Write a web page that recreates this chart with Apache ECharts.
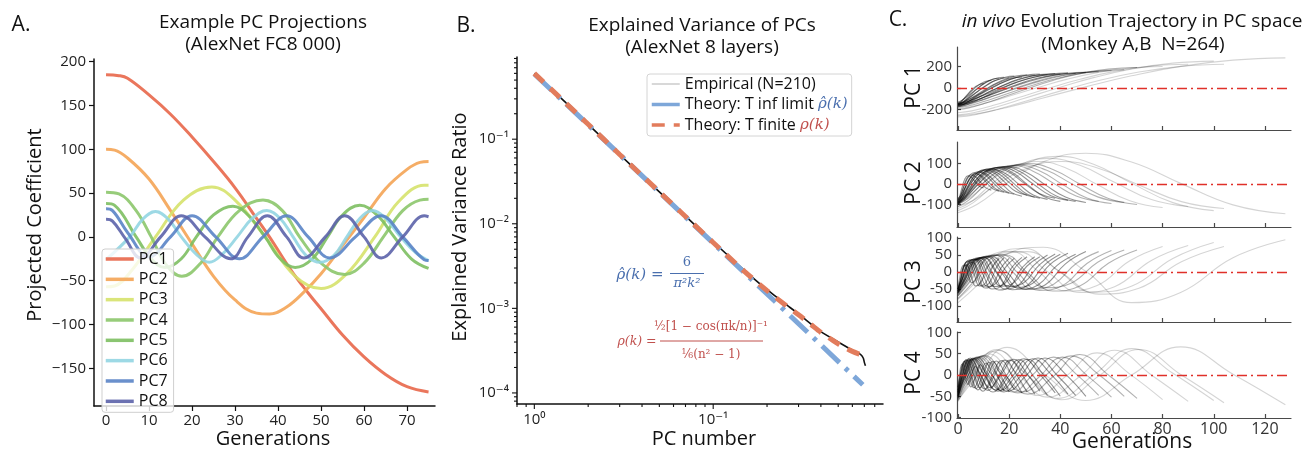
<!DOCTYPE html>
<html><head><meta charset="utf-8">
<script src="https://cdn.jsdelivr.net/npm/echarts@6/dist/echarts.min.js"></script>
<style>html,body{margin:0;padding:0;background:#fff}#c{width:1315px;height:451px}</style>
</head><body><div id="c"></div>
<script>
// ================= DATA =================
// ---- Panel A: example PC projections (generation, coefficient) ----
const pcNamesA = ['PC1','PC2','PC3','PC4','PC5','PC6','PC7','PC8'];
const pc1A = [[0,185],[3,184],[5,181],[10,162],[15,140],[20,114],[25,86],[30,56],[35,21],[38,0],[43,-38],[47,-64],[50,-82],[55,-112],[60,-137],[65,-157],[70,-171],[75,-177]];
const pc2A = [[0,100],[2,99],[5,90],[10,66],[15,30],[20,-8],[25,-45],[30,-72],[35,-87],[38,-88],[42,-80],[46,-63],[50,-42],[55,-10],[60,22],[65,55],[70,77],[73,85],[75,86]];
const pc3A = [[0,-57],[2,-56],[6,-38],[11.5,0],[18,42],[24.6,57],[30,42],[37,0],[44,-45],[50,-59],[56,-42],[62.5,0],[68,40],[74,59],[75,59]];
const pc4A = [[0,51],[3,49],[7,30],[10.5,0],[14,-32],[17.6,-45],[22,-30],[26,0],[31,30],[36.5,42],[41,30],[45,0],[50,-30],[55.5,-43],[60,-30],[64.5,0],[69,30],[73,42],[75,43]];
const pc5A = [[0,38],[2,36],[7,0],[10.5,-25],[13.7,-35],[17.5,-25],[21,0],[25,25],[29.5,35],[33,25],[37,0],[40.5,-25],[44,-35],[48,-25],[51.5,0],[55,25],[59,36],[63,25],[67,0],[71,-25],[75,-36]];
const pc6A = [[0,-26],[5.5,0],[8.5,20],[11.5,29],[14.5,20],[17.5,0],[21,-20],[24,-29],[27,-20],[30.5,0],[34,21],[37.4,30],[40.5,21],[43.5,0],[46.5,-21],[49.8,-29],[53,-21],[56,0],[59,21],[62,30],[65,21],[68.5,0],[72,-18],[75,-27]];
const pc7A = [[0,32],[1.5,30],[5,5],[10,-23],[15,0],[20,24],[25.5,0],[31,-25],[36.5,0],[42,24],[47,0],[52,-24],[58,0],[64,24],[69,0],[74,-26],[75,-27]];
const pc8A = [[0,20],[1.5,18],[4.5,-2],[8,-24],[12.7,0],[17.5,24],[23,0],[29,-25],[33,0],[37.5,24],[42,0],[46,-24],[51,0],[55.5,24],[60,0],[64,-24],[69,0],[74,24],[75,23]];
const xTicksA = [0,10,20,30,40,50,60,70];
const yTicksA = [-150,-100,-50,0,50,100,150,200];

// ---- Panel B: explained variance (PC number, ratio) ----
const empiricalB = [[1,0.6],[1.5,0.27],[2,0.15],[3,0.066],[4,0.037],[5,0.0238],[7,0.0123],[10,0.0061],[15,0.0028],[20,0.00166],[25,0.00115],[30,0.00086],[40,0.00053],[50,0.0004],[60,0.00032],[66,0.00029],[69,0.00026],[70,0.00023],[71,0.00021]];
const theoryInfB = [[1,0.59],[2,0.148],[5,0.0236],[10,0.0059],[20,0.00148],[40,0.00037],[68.6,0.000125]];
const theoryFinB = [[1,0.6],[2,0.15],[3,0.066],[5,0.0238],[7,0.0122],[10,0.006],[15,0.00272],[20,0.00162],[25,0.00112],[30,0.00084],[35,0.00065],[40,0.00052],[45,0.00044],[50,0.00038],[55,0.00034],[60,0.00031],[65,0.00029],[68.6,0.00028]];
const xTicksB = [1,10];
const xTickLabelsB = ['10\u2070','10\u207B\u00B9'];
const yTicksB = [1e-4,1e-3,1e-2,1e-1];
const yTickLabelsB = ['10\u207B\u2074','10\u207B\u00B3','10\u207B\u00B2','10\u207B\u00B9'];

// ---- Panel C: in vivo trajectories; values sampled at fixed fractions of each trajectory length ----
const trajLengths = [10,13,16,18,20,22,25,27,30,32,35,38,40,43,46,50,55,60,65,70,80,90,100,104,128];
const trajSampleFrac = [0,0.06,0.15,0.26,0.39,0.53,0.68,0.84,1];
const pc1C = [
[-150,-143,-122,-91,-55,-19,12,33,40],[-140,-132,-109,-75,-35,5,39,62,70],[-160,-150,-124,-83,-35,13,54,81,90],
[-130,-121,-96,-59,-15,29,66,91,100],[-155,-146,-119,-78,-30,18,59,86,95],[-145,-135,-108,-66,-18,31,73,100,110],
[-170,-160,-131,-87,-35,17,61,90,100],[-150,-140,-111,-67,-15,37,81,110,120],[-160,-149,-119,-73,-20,33,79,109,120],
[-140,-130,-101,-57,-5,47,91,120,130],[-165,-154,-123,-75,-20,35,83,114,125],[-150,-139,-108,-62,-8,47,93,124,135],
[-175,-163,-130,-81,-23,36,85,118,130],[-145,-134,-103,-57,-3,52,98,129,140],[-160,-149,-117,-69,-13,44,92,124,135],
[-155,-144,-111,-62,-5,52,101,134,145],[-170,-158,-123,-71,-10,51,103,138,150],[-160,-148,-113,-61,0,61,113,148,160],
[-180,-167,-129,-72,-5,62,119,157,170],[-200,-185,-143,-80,-5,70,133,175,190],[-190,-175,-133,-70,5,80,143,185,200],
[-230,-213,-164,-91,-5,81,154,203,220],[-250,-231,-177,-96,0,96,177,231,250],[-270,-251,-198,-119,-25,69,148,201,220],
[-260,-239,-181,-93,10,113,201,259,280]];
const pc2C = [
[-80,-62,-20,22,40,31,10,-11,-20],[-90,-70,-22,25,45,34,8,-19,-30],[-75,-56,-10,36,55,42,10,-22,-35],
[-95,-74,-22,29,50,37,5,-27,-40],[-85,-64,-12,39,60,45,8,-30,-45],[-70,-51,-5,41,60,44,5,-34,-50],
[-100,-76,-17,41,65,47,3,-42,-60],[-80,-58,-5,48,70,52,8,-37,-55],[-90,-67,-10,47,70,50,3,-45,-65],
[-75,-53,0,53,75,54,3,-49,-70],[-95,-71,-12,48,72,51,-2,-54,-75],[-80,-57,-1,55,78,56,4,-48,-70],
[-100,-74,-10,54,80,56,-3,-61,-85],[-85,-61,-2,58,82,58,1,-56,-80],[-90,-64,-3,59,85,60,0,-60,-85],
[-95,-69,-5,59,85,59,-3,-64,-90],[-85,-59,3,64,90,64,3,-59,-85],[-100,-72,-4,64,92,65,-2,-68,-95],
[-90,-63,3,68,95,68,3,-63,-90],[-110,-79,-5,69,100,71,0,-71,-100],[-95,-65,8,80,110,77,-3,-82,-115],
[-120,-84,3,89,125,91,8,-76,-110],[-130,-91,3,96,135,96,3,-91,-130],[-110,-78,0,78,110,76,-5,-86,-120],
[-140,-98,5,108,150,107,3,-102,-145]];
const pc3C = [
[-40,-20,14,21,-5,-31,-24,10,30],[-50,-27,12,21,-10,-41,-32,7,30],[-50,-24,21,31,-5,-41,-31,14,40],
[-50,-23,24,34,-4,-42,-32,15,42],[-50,-22,27,37,-5,-47,-37,12,40],[-55,-28,17,28,-8,-43,-32,13,40],
[-56,-26,27,37,-7,-50,-40,13,43],[-50,-22,28,38,-3,-43,-33,17,45],[-60,-29,27,38,-8,-53,-42,14,45],
[-45,-17,32,42,0,-42,-32,17,45],[-60,-28,28,40,-5,-50,-38,18,50],[-53,-22,31,43,0,-43,-31,22,53],
[-62,-29,29,42,-5,-52,-39,19,52],[-55,-23,33,45,0,-45,-33,23,55],[-57,-24,33,45,-3,-50,-38,19,52],
[-65,-29,33,46,-3,-51,-38,24,60],[-60,-25,36,50,0,-50,-36,25,60],[-68,-30,35,49,-3,-54,-40,25,63],
[-60,-24,38,51,3,-46,-33,29,65],[-70,-31,36,51,-3,-56,-41,26,65],[-70,-28,45,61,3,-56,-40,33,75],
[-78,-34,43,60,0,-60,-43,34,78],[-77,-30,51,69,5,-59,-41,40,87],[-80,-35,43,60,-3,-65,-48,30,75],
[-90,-38,53,73,2,-90,-60,42,95]];
const pc4C = [
[-28,2,25,3,-22,0,20,-2,-25],[-35,-3,28,2,-28,-4,24,1,-30],[-40,-2,32,0,-30,-2,28,0,-35],
[-30,4,33,3,-32,-3,30,2,-38],[-45,-5,35,0,-35,-5,32,-2,-40],[-38,0,36,5,-30,0,33,3,-35],
[-50,-6,35,-2,-38,-4,34,0,-42],[-42,-2,38,2,-33,0,35,2,-40],[-48,-4,36,0,-36,-3,35,-1,-45],
[-35,2,40,5,-30,2,37,4,-38],[-52,-6,37,-2,-40,-5,36,-2,-48],[-40,0,38,3,-35,0,38,2,-42],
[-55,-5,40,0,-38,-4,37,-1,-50],[-42,-1,38,2,-36,-1,38,3,-45],[-48,-3,40,1,-40,-3,40,0,-48],
[-50,-4,42,2,-38,-2,40,2,-50],[-45,0,42,4,-40,0,42,2,-48],[-55,-5,44,0,-42,-4,42,-1,-52],
[-48,-2,45,3,-40,0,45,3,-50],[-58,-6,46,0,-45,-4,48,0,-55],[-52,-2,50,4,-48,-2,52,2,-58],
[-60,-5,55,2,-52,-3,58,0,-62],[-55,0,60,5,-55,0,62,4,-60],[-62,-4,58,0,-58,-2,60,0,-65],
[-60,-2,65,4,-60,0,66,2,-70]];
const xTicksC = [0,20,40,60,80,100,120];
const yTicksC = [[-200,0,200],[-100,0,100],[-100,-50,0,50,100],[-100,-50,0,50,100]];
const pcLabelsC = ['PC 1','PC 2','PC 3','PC 4'];

// ================= STYLE / LAYOUT =================
const FONT = "'Open Sans', 'DejaVu Sans', sans-serif";
const SERIF = "'DejaVu Serif', 'Liberation Serif', serif";
const colorsA = ['#e8674a','#f4a455','#d6e26c','#8cc66b','#7dbf62','#92d5e2','#5a84c6','#5c63aa'];
const blueB = '#7ea7d9', redB = '#e27c5c', blueTxt = '#4a6fae', redTxt = '#c0504d';
const minusFmt = v => String(v).replace('-', '\u2212');
function logLabel(v, ticks, labels) {
  for (let i = 0; i < ticks.length; i++) {
    if (Math.abs(Math.log10(v) - Math.log10(ticks[i])) < 1e-6) return labels[i];
  }
  return '';
}
function trajAlpha(len) { return len <= 50 ? 0.42 : (len <= 70 ? 0.3 : 0.17); }
const xMinB = 0.8, xMaxB = 89, yMinB = 7.4e-5, yMaxB = 0.937;

const gridsC = [[47,83],[142,85],[237,85],[332,86]];
const yRangeC = [[-391,381],[-210,205],[-147,103],[-101,101]];

const grids = [
  {left:94, top:59, width:341, height:347},
  {left:517, top:57, width:366, height:347}
].concat(gridsC.map(g => ({left:957, top:g[0], width:334, height:g[1]})));
grids.forEach(g => { g.containLabel = false; g.outerBoundsMode = 'none'; });

const axisBlack = {onZero:false, lineStyle:{color:'#111', width:1.5}};
const axisGray = {onZero:false, lineStyle:{color:'#4a4a4a', width:1.2}};
const lblA = {fontSize:15, fontFamily:FONT, color:'#222'};

const xAxes = [
  {gridIndex:0, type:'value', min:-2.8, max:76.5, axisLine:axisBlack,
   axisTick:{customValues:xTicksA, length:5, lineStyle:{color:'#111', width:1.2}},
   axisLabel:Object.assign({customValues:xTicksA, margin:7}, lblA), splitLine:{show:false}},
  {gridIndex:1, type:'log', logBase:10, min:xMinB, max:xMaxB, axisLine:axisBlack, axisTick:{show:false},
   axisLabel:Object.assign({margin:8, formatter: v => logLabel(v, xTicksB, xTickLabelsB)}, lblA), splitLine:{show:false}}
];
const yAxes = [
  {gridIndex:0, type:'value', min:-193, max:203, axisLine:axisBlack,
   axisTick:{customValues:yTicksA, length:5, lineStyle:{color:'#111', width:1.2}},
   axisLabel:Object.assign({customValues:yTicksA, margin:8, formatter:minusFmt}, lblA), splitLine:{show:false}},
  {gridIndex:1, type:'log', logBase:10, min:yMinB, max:yMaxB, axisLine:axisBlack, axisTick:{show:false},
   axisLabel:Object.assign({margin:8, formatter: v => logLabel(v, yTicksB, yTickLabelsB)}, lblA), splitLine:{show:false}}
];
for (let p = 0; p < 4; p++) {
  xAxes.push({gridIndex:2+p, type:'value', min:-0.4, max:130.2, axisLine:axisGray,
    axisTick:{customValues:xTicksC, inside:true, length:4, lineStyle:{color:'#4a4a4a', width:1.2}},
    axisLabel:{show:p===3, customValues:xTicksC, fontSize:16, fontFamily:FONT, color:'#333', margin:3},
    splitLine:{show:false}});
  yAxes.push({gridIndex:2+p, type:'value', min:yRangeC[p][0], max:yRangeC[p][1], axisLine:axisGray,
    axisTick:{customValues:yTicksC[p], inside:true, length:4, lineStyle:{color:'#4a4a4a', width:1.2}},
    axisLabel:{customValues:yTicksC[p], fontSize:15, fontFamily:FONT, color:'#333', margin:5},
    splitLine:{show:false}});
}

// ================= SERIES =================
const series = [];
const dataA = [pc1A,pc2A,pc3A,pc4A,pc5A,pc6A,pc7A,pc8A];
dataA.forEach((d, i) => {
  series.push({name:pcNamesA[i], type:'line', xAxisIndex:0, yAxisIndex:0, data:d, smooth:0.4,
    showSymbol:false, symbol:'none', lineStyle:{width:3, color:colorsA[i], opacity:0.9},
    itemStyle:{color:colorsA[i]}, z:2+i*0.01});
});

series.push({name:'Empirical (N=210)', type:'line', xAxisIndex:1, yAxisIndex:1, data:empiricalB, smooth:0.2,
  showSymbol:false, symbol:'none', lineStyle:{width:1.6, color:'#111'}, itemStyle:{color:'#111'}, z:2});
series.push({name:'Theory: T inf limit', type:'line', xAxisIndex:1, yAxisIndex:1, data:theoryInfB,
  showSymbol:false, symbol:'none', lineStyle:{width:5, color:blueB, type:[24,8,4,8]}, itemStyle:{color:blueB}, z:3});
series.push({name:'Theory: T finite', type:'line', xAxisIndex:1, yAxisIndex:1, data:theoryFinB, smooth:0.3,
  showSymbol:false, symbol:'none', lineStyle:{width:5, color:redB, type:[13,9]}, itemStyle:{color:redB}, z:4});

// axis ticks for log panel (major + minor), placed through the log scales
const xTickDataB = [], yTickDataB = [];
for (let d = -1; d <= 2; d++) for (let m = 1; m <= 9; m++) {
  const v = m * Math.pow(10, d);
  if (v >= xMinB && v <= xMaxB) xTickDataB.push([v, yMinB, m === 1 ? 5 : 3]);
}
for (let d = -5; d <= 0; d++) for (let m = 1; m <= 9; m++) {
  const v = m * Math.pow(10, d);
  if (v >= yMinB && v <= yMaxB) yTickDataB.push([xMinB, v, m === 1 ? 5 : 3]);
}
series.push({type:'custom', xAxisIndex:1, yAxisIndex:1, data:xTickDataB, clip:false, silent:true, z:5,
  encode:{x:0, y:1},
  renderItem:(params, api) => { const p = api.coord([api.value(0), api.value(1)]); const len = api.value(2);
    return {type:'line', shape:{x1:p[0], y1:p[1], x2:p[0], y2:p[1]+len}, style:{stroke:'#111', lineWidth:1.1}}; }});
series.push({type:'custom', xAxisIndex:1, yAxisIndex:1, data:yTickDataB, clip:false, silent:true, z:5,
  encode:{x:0, y:1},
  renderItem:(params, api) => { const p = api.coord([api.value(0), api.value(1)]); const len = api.value(2);
    return {type:'line', shape:{x1:p[0], y1:p[1], x2:p[0]-len, y2:p[1]}, style:{stroke:'#111', lineWidth:1.1}}; }});

const dataC = [pc1C, pc2C, pc3C, pc4C];
for (let p = 0; p < 4; p++) {
  for (let i = 0; i < trajLengths.length; i++) {
    series.push({type:'line', xAxisIndex:2+p, yAxisIndex:2+p, silent:true, smooth:0.45,
      showSymbol:false, symbol:'none', z:2,
      data: trajSampleFrac.map((f, j) => [trajLengths[i] * f, dataC[p][i][j]]),
      lineStyle:{color:'rgba(0,0,0,' + trajAlpha(trajLengths[i]) + ')', width:1.1}});
  }
  series.push({type:'line', xAxisIndex:2+p, yAxisIndex:2+p, data:[], silent:true, z:6,
    markLine:{silent:true, symbol:['none','none'], label:{show:false}, animation:false,
      lineStyle:{color:'#e0302a', width:1.3, type:[10,4,2,4]}, data:[{yAxis:0}]}});
}

// ================= TEXT =================
const graphic = [];
function addText(x, y, text, size, opt) {
  opt = opt || {};
  const style = Object.assign({text:text, fontSize:size, fontFamily:FONT, fill:'#111',
    align:'center', verticalAlign:'middle', textAlign:'center', textVerticalAlign:'middle'}, opt.style || {});
  graphic.push({type:'text', x:x, y:y, rotation:opt.rotation || 0, silent:true, z:10, style:style});
}
function addLine(x1, y1, x2, y2, color) {
  graphic.push({type:'line', silent:true, z:10, shape:{x1:x1, y1:y1, x2:x2, y2:y2}, style:{stroke:color, lineWidth:1}});
}
addText(21, 25, 'A.', 21);
addText(263, 23, 'Example PC Projections', 19);
addText(263, 45, '(AlexNet FC8 000)', 19);
addText(466, 26, 'B.', 21);
addText(702, 26, 'Explained Variance of PCs', 19);
addText(702, 48, '(AlexNet 8 layers)', 19);
addText(898, 20, 'C.', 21);
addText(1132, 22, '{i|in vivo} Evolution Trajectory in PC space', 19,
  {style:{rich:{i:{fontStyle:'italic', fontSize:19, fontFamily:FONT, fill:'#111'}}}});
addText(1133, 45, '(Monkey A,B  N=264)', 19);
addText(35, 225, 'Projected Coefficient', 20, {rotation:Math.PI/2});
addText(273, 439, 'Generations', 20);
addText(460, 227, 'Explained Variance Ratio', 20, {rotation:Math.PI/2});
addText(704, 439, 'PC number', 20);
addText(1132, 442, 'Generations', 21);
const pcLabelY = [87, 183, 282, 373];
pcLabelsC.forEach((t, i) => addText(914, pcLabelY[i], t, 21, {rotation:Math.PI/2}));
addText(640, 275, '\u03C1\u0302(k) =', 15, {style:{fontFamily:SERIF, fontStyle:'italic', fill:blueTxt}});
addText(687, 263, '6', 13, {style:{fontFamily:SERIF, fill:blueTxt}});
addLine(670, 273.5, 704, 273.5, blueTxt);
addText(687, 284, '\u03C0\u00B2k\u00B2', 13, {style:{fontFamily:SERIF, fontStyle:'italic', fill:blueTxt}});
addText(637, 342, '\u03C1(k) =', 12.5, {style:{fontFamily:SERIF, fontStyle:'italic', fill:redTxt}});
addText(711, 327, '\u00BD[1 \u2212 cos(\u03C0k/n)]\u207B\u00B9', 12, {style:{fontFamily:SERIF, fill:redTxt}});
addLine(660, 341, 763, 341, redTxt);
addText(711, 355, '\u2159(n\u00B2 \u2212 1)', 12, {style:{fontFamily:SERIF, fill:redTxt}});

// ================= OPTION =================
const mathRich = {
  b:{color:blueTxt, fontFamily:SERIF, fontStyle:'italic', fontSize:15, lineHeight:14},
  r:{color:redTxt, fontFamily:SERIF, fontStyle:'italic', fontSize:15, lineHeight:14}
};
const hiddenSymbol = {opacity:0, color:'rgba(0,0,0,0)', borderWidth:0};
const option = {
  animation:false,
  backgroundColor:'#ffffff',
  textStyle:{fontFamily:FONT},
  grid:grids,
  xAxis:xAxes,
  yAxis:yAxes,
  legend:[
    {data:pcNamesA, left:102, top:249, orient:'vertical', itemWidth:28, itemHeight:14, itemGap:4.33,
     padding:[2,6,3,2], backgroundColor:'rgba(255,255,255,0.8)', borderColor:'#cfcfcf', borderWidth:1,
     borderRadius:3, selectedMode:false, itemStyle:hiddenSymbol, lineStyle:{width:3.5},
     textStyle:{fontSize:16, fontFamily:FONT, color:'#111', lineHeight:14}},
    {data:[{name:'Empirical (N=210)', lineStyle:{color:'#d8d8d8', width:2}},
           {name:'Theory: T inf limit', lineStyle:{type:'solid', width:3.5}},
           {name:'Theory: T finite', lineStyle:{width:3.5}}],
     left:647, top:74, orient:'vertical', itemWidth:28, itemHeight:14, itemGap:4.5,
     padding:[2,4,3,3], backgroundColor:'#fff', borderColor:'#d4d4d4', borderWidth:1, borderRadius:3,
     selectedMode:false, itemStyle:hiddenSymbol,
     formatter: name => name === 'Theory: T inf limit' ? name + ' {b|\u03C1\u0302(k)}'
                      : name === 'Theory: T finite' ? name + ' {r|\u03C1(k)}' : name,
     textStyle:{fontSize:16, fontFamily:FONT, color:'#111', lineHeight:14, rich:mathRich}}
  ],
  graphic:graphic,
  series:series
};
const chart = echarts.init(document.getElementById('c'), null, {renderer:'canvas', width:1315, height:451});
chart.setOption(option);
</script></body></html>
